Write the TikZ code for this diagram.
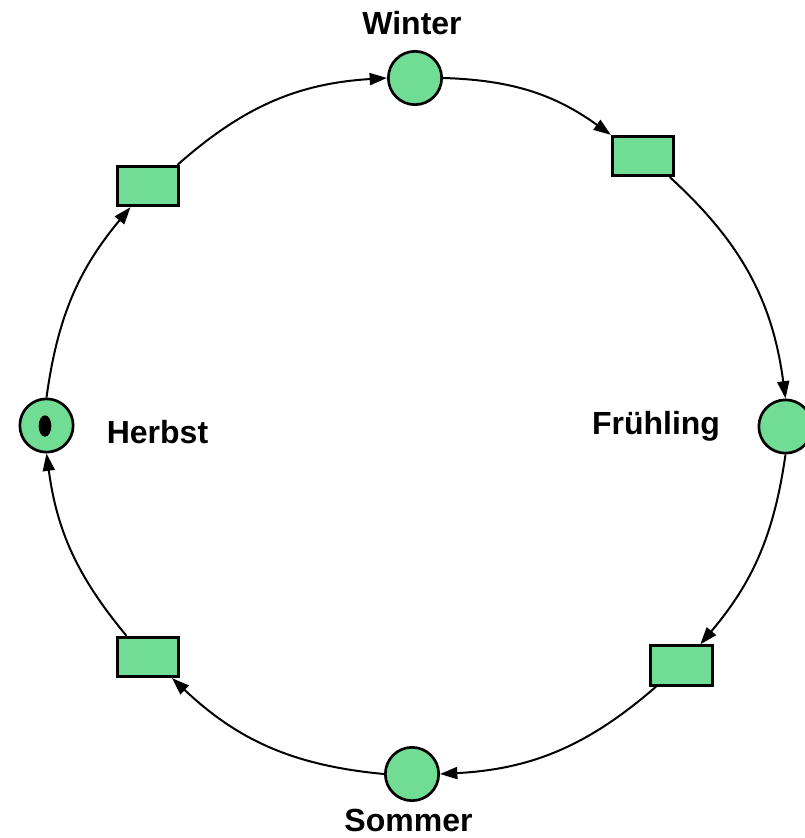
\documentclass[tikz,border=0pt]{standalone}
\usepackage{fontspec}
\setmainfont{Liberation Sans}
\usetikzlibrary{arrows.meta,shapes.geometric}
\definecolor{petri}{HTML}{70DC94}

\begin{document}
\begin{tikzpicture}[
    x=0.75pt, y=-0.75pt,
    place/.style={circle, draw, line width=2pt, fill=petri, minimum size=40pt, inner sep=0pt},
    trans/.style={rectangle, draw, line width=2.2pt, fill=petri, minimum width=46pt,
                  minimum height=29.5pt, inner sep=0pt},
    token/.style={ellipse, fill=black, minimum width=9.5pt, minimum height=16pt, inner sep=0pt},
    lbl/.style={font=\fontsize{24}{28}\selectfont\bfseries, anchor=base, inner sep=0pt},
    arr/.style={-{Triangle[length=13pt,width=9pt]}, line width=1.5pt},
  ]
  \useasboundingbox (0,0) rectangle (804,838);

  \node[place] (win) at (415,78) {};
  \node[place] (fru) at (785.5,426.5) {};
  \node[place] (som) at (412,774) {};
  \node[place] (her) at (46.5,425.5) {};
  \node[token] (tok) at (45,426) {};

  \node[trans] (t1) at (643,156) {};
  \node[trans] (t2) at (681.5,665.5) {};
  \node[trans] (t3) at (148,657) {};
  \node[trans] (t4) at (148,186) {};

  \node[lbl] (winlbl) at (412,35) {Winter};
  \node[lbl] (frulbl) at (656,434) {Frühling};
  \node[lbl] (somlbl) at (408.5,831) {Sommer};
  \node[lbl] (herlbl) at (157.5,443) {Herbst};

  \draw[arr] (win.east) to[bend left=17] (t1.north west);
  \draw[arr] ([xshift=-4pt]t1.south east) to[bend left=20] (fru.north);
  \draw[arr] (fru.south) to[bend left=16] ([xshift=-10pt]t2.north east);
  \draw[arr] ([xshift=5pt]t2.south west) to[bend left=19] (som.east);
  \draw[arr] (som.west) to[bend left=19] ([xshift=-6pt]t3.south east);
  \draw[arr] ([xshift=8pt]t3.north west) to[bend left=16] (her.south);
  \draw[arr] (her.north) to[bend left=16] ([xshift=11pt]t4.south west);
  \draw[arr] ([xshift=-2pt]t4.north east) to[bend left=19] (win.west);
\end{tikzpicture}
\end{document}
